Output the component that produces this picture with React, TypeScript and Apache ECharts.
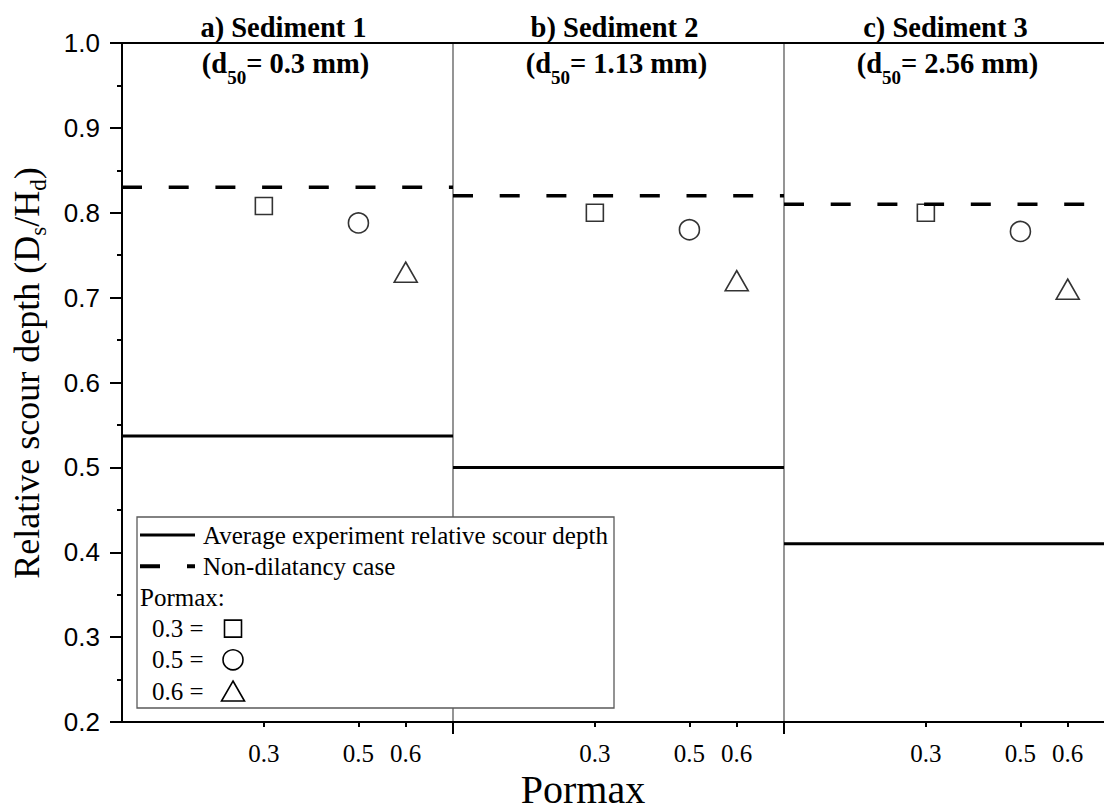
import { useEffect, useRef } from "react";
import * as echarts from "echarts";

// ---- data ----
const panelTitles = ["a) Sediment 1", "b) Sediment 2", "c) Sediment 3"];
const grainSizes = ["0.3", "1.13", "2.56"]; // d50 in mm
const pormaxValues = [0.3, 0.5, 0.6];
const pormaxSymbols = ["rect", "circle", "triangle"];
// simulated relative scour depth for each sediment, ordered by pormax
const sediment1Depth = [0.808, 0.788, 0.73];
const sediment2Depth = [0.8, 0.78, 0.72];
const sediment3Depth = [0.8, 0.778, 0.71];
const simulatedDepth = [sediment1Depth, sediment2Depth, sediment3Depth];
const experimentAverage = [0.537, 0.5, 0.41];
const nonDilatancy = [0.83, 0.82, 0.81];
const xRange = [0, 0.7];
const yRange = [0.2, 1.0];
const yStep = 0.1;

// ---- layout ----
const GRID_LEFT = 122;
const GRID_TOP = 43;
const GRID_H = 679;
const PANEL_W = 331;
const SERIF = '"Liberation Serif", "Times New Roman", serif';
const SANS = '"Liberation Sans", Arial, sans-serif';
const symbolSizes: (number | number[])[] = [17, 20, [23, 20]];
const DASH = [20, 26.7];

function buildOption() {
  const grid = panelTitles.map((_, i) => ({
    left: GRID_LEFT + i * PANEL_W,
    top: GRID_TOP,
    width: PANEL_W,
    height: GRID_H,
    containLabel: false,
    outerBoundsMode: "none",
  }));

  const xAxis: any[] = [];
  panelTitles.forEach((_, i) => {
    xAxis.push({
      type: "value",
      gridIndex: i,
      position: "bottom",
      min: xRange[0],
      max: xRange[1],
      splitLine: { show: false },
      axisLine: { show: true, onZero: false, lineStyle: { color: "#000", width: 2 } },
      axisTick: {
        show: true,
        customValues: pormaxValues,
        length: 5,
        inside: false,
        lineStyle: { color: "#000", width: 2 },
      },
      axisLabel: {
        show: true,
        customValues: pormaxValues,
        formatter: (v: number) => v.toFixed(1),
        margin: 19,
        color: "#000",
        fontFamily: SERIF,
        fontSize: 25,
      },
    });
    xAxis.push({
      type: "value",
      gridIndex: i,
      position: "top",
      min: xRange[0],
      max: xRange[1],
      splitLine: { show: false },
      axisLine: { show: true, onZero: false, lineStyle: { color: "#000", width: 2 } },
      axisTick: { show: false },
      axisLabel: { show: false },
    });
  });

  const yAxis = panelTitles.map((_, i) =>
    i === 0
      ? {
          type: "value",
          gridIndex: 0,
          min: yRange[0],
          max: yRange[1],
          interval: yStep,
          splitLine: { show: false },
          axisLine: { show: true, onZero: false, lineStyle: { color: "#000", width: 2 } },
          axisTick: { show: true, length: 12, lineStyle: { color: "#000", width: 2 } },
          minorTick: { show: true, splitNumber: 2, length: 5, lineStyle: { color: "#000", width: 2 } },
          axisLabel: {
            margin: 22,
            color: "#000",
            fontFamily: SANS,
            fontSize: 26,
            formatter: (v: number) => v.toFixed(1),
          },
        }
      : {
          type: "value",
          gridIndex: i,
          min: yRange[0],
          max: yRange[1],
          interval: yStep,
          splitLine: { show: false },
          axisLine: { show: true, onZero: false, lineStyle: { color: "#7a7a7a", width: 1.6 } },
          axisTick: { show: false },
          axisLabel: { show: false },
        }
  );

  const series: any[] = [];
  panelTitles.forEach((_, i) => {
    series.push({
      type: "line",
      name: "Average experiment relative scour depth",
      xAxisIndex: 2 * i,
      yAxisIndex: i,
      data: xRange.map((x) => [x, experimentAverage[i]]),
      symbol: "none",
      lineStyle: { color: "#000", width: 3 },
      z: 3,
    });
    series.push({
      type: "line",
      name: "Non-dilatancy case",
      xAxisIndex: 2 * i,
      yAxisIndex: i,
      data: xRange.map((x) => [x, nonDilatancy[i]]),
      symbol: "none",
      lineStyle: { color: "#000", width: 3.6, type: DASH, cap: "butt" },
      z: 3,
    });
    series.push({
      type: "scatter",
      name: "Pormax",
      xAxisIndex: 2 * i,
      yAxisIndex: i,
      data: pormaxValues.map((p, k) => ({
        value: [p, simulatedDepth[i][k]],
        symbol: pormaxSymbols[k],
        symbolSize: symbolSizes[k],
      })),
      itemStyle: { color: "rgba(0,0,0,0)", borderColor: "#000", borderWidth: 1.6 },
      z: 4,
    });
  });

  const graphic: any[] = [];
  const bottom = GRID_TOP + GRID_H;

  // longer ticks where panels meet on the x axis
  for (let i = 1; i < panelTitles.length; i++) {
    const x = GRID_LEFT + i * PANEL_W;
    graphic.push({
      type: "line",
      z: 50,
      shape: { x1: x, y1: bottom - 1, x2: x, y2: bottom + 12 },
      style: { stroke: "#000", lineWidth: 2 },
    });
  }

  // panel headings
  panelTitles.forEach((t, i) => {
    const cx = GRID_LEFT + i * PANEL_W + PANEL_W / 2 - 4;
    graphic.push({
      type: "text",
      z: 50,
      x: cx,
      y: 27,
      style: {
        text: t,
        fontFamily: SERIF,
        fontWeight: "bold",
        fontSize: 28.5,
        fill: "#000",
        align: "center",
        verticalAlign: "middle",
      },
    });
    graphic.push({
      type: "text",
      z: 50,
      x: cx + 2,
      y: 63,
      style: {
        text: `{m|(d}{s|50}{m|= ${grainSizes[i]} mm)}`,
        fill: "#000",
        align: "center",
        verticalAlign: "middle",
        rich: {
          m: { fontFamily: SERIF, fontWeight: "bold", fontSize: 28.5, lineHeight: 60, fill: "#000" },
          s: { fontFamily: SERIF, fontWeight: "bold", fontSize: 19, padding: [28, 0, 0, 0], fill: "#000" },
        },
      },
    });
  });

  // y axis title
  graphic.push({
    type: "text",
    z: 50,
    x: 27,
    y: 373,
    rotation: Math.PI / 2,
    style: {
      text: "{m|Relative scour depth (D}{s|s}{m|/H}{s|d}{m|)}",
      fill: "#000",
      align: "center",
      verticalAlign: "middle",
      rich: {
        m: { fontFamily: SERIF, fontSize: 36, lineHeight: 54, fill: "#000" },
        s: { fontFamily: SERIF, fontSize: 23, padding: [23, 0, 0, 0], fill: "#000" },
      },
    },
  });

  // x axis title
  graphic.push({
    type: "text",
    z: 50,
    x: 583,
    y: 789,
    style: {
      text: "Pormax",
      fontFamily: SERIF,
      fontSize: 40,
      fill: "#000",
      align: "center",
      verticalAlign: "middle",
    },
  });

  // legend box
  const LX = 137;
  const LY = 517;
  graphic.push({
    type: "rect",
    z: 60,
    shape: { x: LX, y: LY, width: 477, height: 191 },
    style: { fill: "#fff", stroke: "#5a5a5a", lineWidth: 1.3 },
  });
  const rowY = (r: number) => LY + 18 + r * 31.2;
  graphic.push({
    type: "line",
    z: 61,
    shape: { x1: LX + 3, y1: rowY(0), x2: LX + 58, y2: rowY(0) },
    style: { stroke: "#000", lineWidth: 3 },
  });
  graphic.push({
    type: "line",
    z: 61,
    shape: { x1: LX + 3, y1: rowY(1), x2: LX + 58, y2: rowY(1) },
    style: { stroke: "#000", lineWidth: 4, lineDash: [20, 27] },
  });
  const legendText = (text: string, x: number, y: number) => ({
    type: "text",
    z: 61,
    x,
    y,
    style: {
      text,
      fontFamily: SERIF,
      fontSize: 25,
      fill: "#000",
      align: "left",
      verticalAlign: "middle",
    },
  });
  graphic.push(legendText("Average experiment relative scour depth", LX + 66, rowY(0)));
  graphic.push(legendText("Non-dilatancy case", LX + 66, rowY(1)));
  graphic.push(legendText("Pormax:", LX + 3, rowY(2)));
  pormaxValues.forEach((p, k) => {
    const y = rowY(3 + k);
    graphic.push(legendText(`${p.toFixed(1)} =`, LX + 15, y));
    const sx = LX + 96;
    const stroke = { fill: "rgba(0,0,0,0)", stroke: "#000", lineWidth: 1.6 };
    if (pormaxSymbols[k] === "rect") {
      const s = symbolSizes[k] as number;
      graphic.push({ type: "rect", z: 61, shape: { x: sx - s / 2, y: y - s / 2, width: s, height: s }, style: stroke });
    } else if (pormaxSymbols[k] === "circle") {
      const s = symbolSizes[k] as number;
      graphic.push({ type: "circle", z: 61, shape: { cx: sx, cy: y, r: s / 2 }, style: stroke });
    } else {
      const [w, h] = symbolSizes[k] as number[];
      graphic.push({
        type: "polygon",
        z: 61,
        shape: {
          points: [
            [sx, y - h / 2],
            [sx + w / 2, y + h / 2],
            [sx - w / 2, y + h / 2],
          ],
        },
        style: stroke,
      });
    }
  });

  return {
    animation: false,
    backgroundColor: "#fff",
    grid,
    xAxis,
    yAxis,
    series,
    graphic,
  };
}

export default function App() {
  const ref = useRef<HTMLDivElement>(null);
  useEffect(() => {
    if (!ref.current) return;
    const chart = echarts.init(ref.current, undefined, { renderer: "svg" });
    chart.setOption(buildOption() as any);
    return () => chart.dispose();
  }, []);
  return (
    <div
      ref={ref}
      style={{ position: "absolute", left: 0, top: 0, width: 1104, height: 810, background: "#fff" }}
    />
  );
}
